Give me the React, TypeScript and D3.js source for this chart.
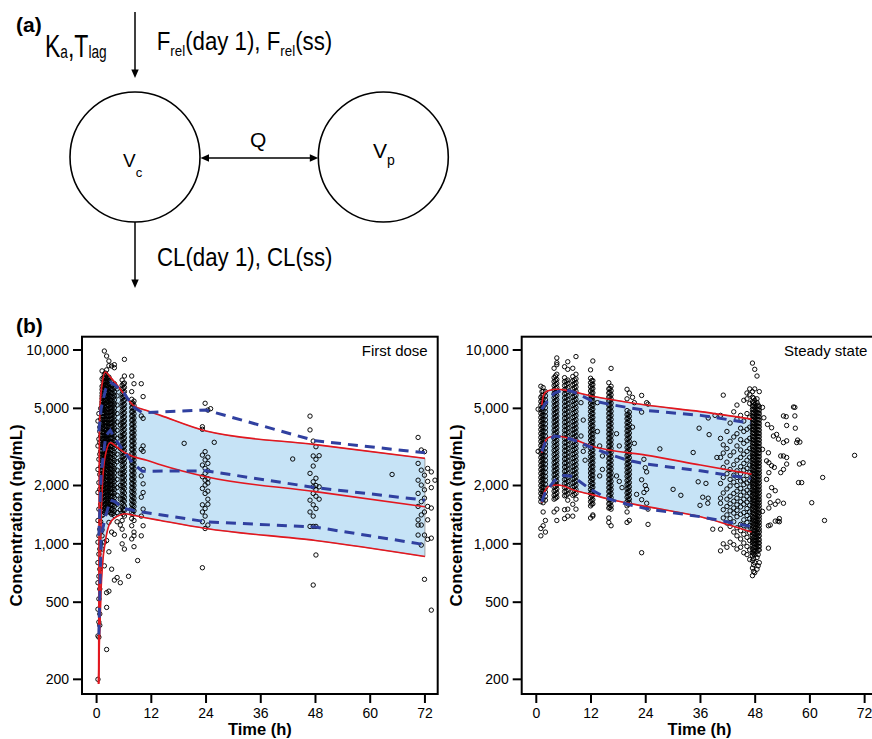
import React from 'react'
import * as d3 from 'd3'

const FONT = '"Liberation Sans", Arial, Helvetica, sans-serif'

const timeTicks = [0, 12, 24, 36, 48, 60, 72]
const concTicks = [200, 500, 1000, 2000, 5000, 10000]

// First dose: model-predicted 5th / 50th / 95th percentiles (red)
const fdPredTime = [0.44, 0.6, 0.8, 1.0, 1.3, 1.9, 3, 4.5, 6.2, 8, 11, 14, 24, 48, 72]
const fdPred95 = [190, 3500, 5300, 6100, 6900, 7700, 7250, 6600, 5850, 5200, 4870, 4600, 3820, 3250, 2760]
const fdPred50 = [190, 360, 740, 1340, 2070, 2840, 3330, 3150, 2950, 2820, 2700, 2560, 2220, 1860, 1555]
const fdPred5 = [190, 300, 420, 590, 780, 1020, 1290, 1385, 1430, 1405, 1360, 1320, 1200, 1040, 860]
// First dose: observed percentiles (blue dashed)
const fdObsTime = [0.5, 1, 2, 3, 4, 6, 8, 10, 24, 48, 72]
const fdObs95 = [3800, 5000, 6300, 6800, 6600, 6000, 5100, 4750, 4900, 3400, 2950]
const fdObs50 = [1100, 2300, 3600, 3850, 3500, 3000, 2600, 2370, 2380, 1950, 1680]
const fdObs5 = [340, 1100, 1400, 1680, 1650, 1520, 1490, 1460, 1300, 1220, 990]

// First dose observations: [time, conc, conc, ...]
const fdPoints = [
  [0.3, 200, 335, 460, 630, 800, 1020, 1320, 1840, 2420, 3200, 4300],
  [0.5, 330, 395, 520, 680, 885, 1100, 1510, 2070, 2730, 3470, 4700],
  [0.7, 380, 435, 585, 740, 940, 1190, 1910, 2280, 2900, 3330, 3800, 4000],
  [0.9, 1000, 1150, 1300, 1600, 2500, 3000, 3600, 4400, 5000],
  [1.2, 940, 1100, 1180, 1250, 1400, 1480, 1560, 1650, 1720, 1810, 1900, 1960, 2050, 2140, 2230, 2300, 2400, 2500, 2590, 2700, 2810, 2900, 3020, 3150, 3260, 3390, 3500, 3640, 3770, 3920, 4050, 4200, 4380, 4520, 4700, 4880, 5030, 5240, 5400, 5620, 5800, 6000, 6250, 6500, 7100, 7800],
  [1.45, 1420, 1490, 1580, 1660, 1740, 1820, 1900, 1990, 2090, 2190, 2290, 2400, 2510, 2630, 2750, 2880, 3010, 3150, 3300, 3450, 3610, 3780, 3960, 4140, 4330, 4530, 4740, 4960, 5190, 5430, 5680, 5950, 6230, 6520, 6830, 7200],
  [1.7, 770, 1020, 1450, 1520, 1600, 1680, 1750, 1830, 1920, 2000, 2080, 2170, 2260, 2350, 2450, 2550, 2650, 2760, 2870, 2980, 3100, 3220, 3350, 3480, 3620, 3760, 3900, 4060, 4210, 4370, 4540, 4720, 4900, 5090, 5290, 5490, 5700, 5920, 6150, 6380, 6620, 6880, 7150, 7500, 9880],
  [1.95, 1470, 1540, 1610, 1690, 1770, 1850, 1940, 2030, 2120, 2220, 2330, 2440, 2550, 2670, 2790, 2920, 3060, 3200, 3350, 3510, 3670, 3840, 4020, 4210, 4400, 4610, 4820, 5040, 5280, 5520, 5780, 6050, 6330, 6620, 6930, 7250, 7600],
  [2.2, 285, 470, 560, 1040, 1500, 1570, 1640, 1720, 1800, 1870, 1960, 2040, 2130, 2220, 2310, 2410, 2510, 2610, 2720, 2830, 2940, 3060, 3190, 3320, 3450, 3590, 3740, 3890, 4050, 4220, 4390, 4570, 4750, 4950, 5150, 5360, 5570, 5800, 6030, 6280, 6530, 6800, 7100, 7400, 7900, 9310],
  [2.45, 1460, 1530, 1600, 1680, 1760, 1840, 1930, 2020, 2110, 2210, 2310, 2420, 2530, 2650, 2770, 2900, 3040, 3180, 3330, 3480, 3640, 3810, 3990, 4170, 4370, 4570, 4780, 5000, 5240, 5480, 5730, 6000, 6280, 6570, 6880, 7200],
  [2.7, 570, 910, 1290, 1480, 1550, 1630, 1710, 1790, 1880, 1970, 2060, 2160, 2260, 2360, 2470, 2580, 2700, 2820, 2950, 3080, 3220, 3360, 3510, 3670, 3830, 4000, 4180, 4360, 4550, 4750, 4960, 5180, 5400, 5640, 5880, 6140, 6400, 6680, 6950, 7250, 8300, 8775],
  [3.0, 1450, 1520, 1590, 1670, 1750, 1840, 1930, 2020, 2110, 2210, 2320, 2430, 2540, 2660, 2780, 2910, 3050, 3190, 3340, 3500, 3660, 3830, 4010, 4200, 4390, 4600, 4810, 5040, 5270, 5520, 5780, 6050, 6330, 6630, 7000],
  [3.3, 740, 1150, 1420, 1500, 1580, 1660, 1740, 1830, 1920, 2010, 2110, 2210, 2320, 2430, 2540, 2660, 2790, 2920, 3060, 3200, 3350, 3510, 3670, 3840, 4020, 4200, 4400, 4600, 4810, 5030, 5260, 5500, 5750, 6000, 6280, 6550, 6850, 8270],
  [3.6, 1430, 1510, 1590, 1670, 1760, 1850, 1950, 2050, 2150, 2260, 2380, 2500, 2620, 2750, 2890, 3030, 3180, 3340, 3500, 3680, 3860, 4050, 4250, 4460, 4680, 4910, 5150, 5400, 5670, 5950, 6250, 6600],
  [3.9, 650, 1120, 1400, 1480, 1560, 1650, 1730, 1820, 1910, 2000, 2100, 2210, 2320, 2440, 2560, 2690, 2820, 2960, 3110, 3260, 3420, 3590, 3770, 3950, 4150, 4350, 4560, 4790, 5020, 5270, 5520, 5800, 6080, 6380, 6700, 8100, 8400],
  [4.5, 670, 1300, 1450, 1600, 1780, 1950, 2150, 2400, 2650, 2900, 3200, 3500, 3850, 4250, 4700, 5200, 5800, 6300],
  [5.2, 630, 1250, 1500, 1700, 2000, 2300, 2700, 3100, 3600, 4100],
  [5.6, 1000, 1190, 1320, 1450, 1540, 1620, 1700, 1790, 1880, 1980, 2080, 2190, 2300, 2420, 2540, 2670, 2810, 2950, 3100, 3260, 3430, 3600, 3790, 3980, 4190, 4400, 4630, 4870, 5120, 5380, 5660, 5950, 6260, 6580, 7000],
  [5.85, 1420, 1500, 1590, 1680, 1770, 1870, 1970, 2080, 2190, 2310, 2430, 2560, 2700, 2840, 2990, 3150, 3310, 3480, 3660, 3850, 4050, 4260, 4480, 4710, 4950, 5200, 5470, 5750, 6050, 6350, 6700],
  [6.1, 940, 1100, 1390, 1490, 1570, 1660, 1740, 1830, 1930, 2030, 2130, 2240, 2360, 2480, 2610, 2740, 2880, 3030, 3190, 3350, 3520, 3700, 3890, 4090, 4300, 4520, 4750, 5000, 5250, 5520, 5800, 6100, 6420, 6750, 7340, 8950],
  [7.0, 680],
  [7.7, 1060, 1240, 1350, 1450, 1520, 1600, 1680, 1770, 1860, 1950, 2050, 2160, 2270, 2390, 2510, 2640, 2770, 2920, 3070, 3220, 3390, 3560, 3740, 3930, 4130, 4340, 4560, 4800, 5040, 5300, 5570, 6100, 7340],
  [7.95, 1420, 1500, 1580, 1660, 1750, 1840, 1940, 2040, 2150, 2260, 2380, 2500, 2630, 2770, 2910, 3060, 3220, 3390, 3570, 3750, 3940, 4150, 4360, 4580, 4820, 5070, 5330],
  [8.2, 967, 1100, 1150, 1320, 1480, 1560, 1640, 1720, 1810, 1900, 2000, 2100, 2210, 2320, 2440, 2570, 2700, 2840, 2980, 3140, 3300, 3470, 3650, 3830, 4030, 4240, 4460, 4690, 4930, 5180, 5450, 6700],
  [9.0, 820],
  [9.8, 6700, 4570, 3070, 2240, 1740, 1390, 1100],
  [10.2, 5750, 4440, 3200, 3000, 2420, 2040, 1840, 1510, 1240],
  [19.2, 3300],
  [23.2, 753, 1300, 1460, 1590, 1930, 2220, 2550, 2870, 3900, 4020],
  [23.8, 1200, 1390, 1520, 1820, 2010, 2130, 2310, 2450, 2710, 2990, 5310],
  [24.4, 1250, 1600, 1700, 1870, 2060, 2170, 2380, 2600, 2800, 4900],
  [25.0, 4980],
  [25.8, 3340],
  [43.0, 2740],
  [46.8, 4560, 3870, 2310, 1680, 1460, 1230],
  [47.5, 3390, 2840, 2520, 2090, 1970, 1820, 1590, 1390, 1230, 613],
  [48.1, 3170, 2730, 2180, 2000, 1900, 1760, 1520, 1230, 876],
  [48.8, 2850, 1970, 1700],
  [64.8, 2280],
  [70.5, 3540, 2600, 2130, 1820, 1560, 1330, 1250, 1110],
  [71.2, 3050, 2400, 2010, 1650, 1410, 1250, 985],
  [71.9, 2990, 2260, 1900, 1720, 1460, 1110, 656],
  [72.6, 2450, 2100, 1560, 1330, 1055],
  [73.4, 2350, 1950, 1530, 1070, 455],
  [74.2, 2130],
]

// Steady state: model-predicted percentiles (red)
const ssPredTime = [1.2, 1.6, 2.2, 3.0, 4.5, 6, 8, 12, 16, 24, 36, 47.2]
const ssPred95 = [5200, 5850, 6100, 6200, 6270, 6230, 6100, 5790, 5570, 5200, 4810, 4400]
const ssPred50 = [2950, 3250, 3450, 3560, 3600, 3560, 3470, 3200, 3050, 2870, 2550, 2290]
const ssPred5 = [1630, 1800, 1930, 1990, 2010, 1990, 1900, 1800, 1700, 1560, 1380, 1150]
// Steady state: observed percentiles (blue dashed)
const ssObsTime = [1.2, 2, 4, 6, 8, 12, 16, 20, 24, 36, 47]
const ssObs95 = [4950, 5300, 6000, 6250, 6100, 5500, 5250, 5050, 4880, 4600, 4200]
const ssObs50 = [3000, 3350, 3600, 3550, 3450, 3150, 2900, 2700, 2580, 2380, 2170]
const ssObs5 = [1650, 1850, 2120, 2250, 2230, 1900, 1700, 1600, 1520, 1380, 1230]

// Steady state observations: [time, conc, conc, ...]
const ssPoints = [
  [0.4, 3000, 4950],
  [1.0, 1100, 1200, 1650, 1730, 1820, 1900, 2000, 2100, 2200, 2310, 2420, 2540, 2660, 2790, 2930, 3070, 3220, 3380, 3540, 3710, 3890, 4080, 4280, 4490, 4710, 4940, 5180, 5430, 5700, 6500],
  [1.25, 1700, 1780, 1860, 1950, 2040, 2140, 2240, 2350, 2460, 2580, 2710, 2840, 2980, 3120, 3280, 3440, 3610, 3780, 3970, 4160, 4360, 4580, 4800, 5030, 5280, 5540, 5810, 6100],
  [1.5, 1240, 1460, 1630, 1700, 1790, 1870, 1960, 2060, 2160, 2260, 2370, 2490, 2610, 2740, 2870, 3010, 3160, 3310, 3470, 3640, 3820, 4000, 4200, 4400, 4620, 4840, 5080, 5320, 5580, 5850, 6130, 6400],
  [2.0, 1150, 1320, 1680, 1760, 1850, 1940, 2030, 2130, 2230, 2340, 2460, 2580, 2700, 2840, 2980, 3120, 3270, 3430, 3600, 3780, 3960, 4160, 4360, 4570, 4800, 5030, 5280, 5530, 5800, 6100],
  [3.9, 1460, 1700, 1780, 1870, 1960, 2060, 2160, 2270, 2380, 2500, 2620, 2750, 2890, 3030, 3180, 3340, 3500, 3680, 3860, 4050, 4250, 4460, 4680, 4910, 5150, 5400, 5670, 5950, 6240, 6550, 6870, 7200, 8050],
  [4.2, 1720, 1800, 1890, 1980, 2080, 2180, 2290, 2400, 2520, 2650, 2780, 2920, 3060, 3210, 3370, 3540, 3720, 3900, 4100, 4300, 4510, 4740, 4970, 5220, 5480, 5750, 6040, 6340, 6650, 6980, 7350],
  [4.5, 1320, 1510, 1740, 1830, 1920, 2010, 2110, 2220, 2330, 2440, 2560, 2690, 2820, 2960, 3110, 3260, 3420, 3590, 3770, 3960, 4150, 4360, 4570, 4800, 5030, 5280, 5540, 5820, 6100, 6400, 6720, 7050, 7500, 8400, 8600, 9100],
  [6.2, 1350, 1500, 1770, 1860, 1950, 2050, 2150, 2260, 2370, 2490, 2610, 2740, 2880, 3020, 3170, 3330, 3490, 3670, 3850, 4040, 4240, 4450, 4670, 4900, 5140, 5400, 5660, 5940, 6240, 6550, 6870, 7200, 8200],
  [6.55, 1780, 1870, 1960, 2060, 2160, 2270, 2380, 2500, 2620, 2750, 2890, 3030, 3180, 3340, 3510, 3680, 3860, 4060, 4260, 4470, 4690, 4930, 5170, 5430, 5700, 5980, 6280, 6600, 6930],
  [6.9, 1390, 1510, 1680, 1810, 1900, 2000, 2100, 2200, 2310, 2430, 2550, 2680, 2810, 2950, 3100, 3250, 3410, 3580, 3760, 3950, 4140, 4350, 4560, 4790, 5030, 5280, 5540, 5810, 6100, 6400, 6720, 7000, 7950, 8700],
  [8.0, 1390, 1600, 1780, 1870, 1960, 2060, 2160, 2270, 2380, 2500, 2630, 2760, 2900, 3040, 3190, 3350, 3520, 3690, 3880, 4070, 4270, 4480, 4700, 4940, 5180, 5440, 5710, 5990, 6290, 6600, 6930, 7300, 8050],
  [8.35, 1800, 1890, 1980, 2080, 2180, 2290, 2400, 2520, 2650, 2780, 2920, 3070, 3220, 3380, 3550, 3730, 3910, 4110, 4310, 4530, 4750, 4990, 5240, 5500, 5780, 6070, 6370, 6690, 7020],
  [8.7, 1510, 1700, 1820, 1910, 2010, 2110, 2210, 2320, 2440, 2560, 2690, 2820, 2960, 3110, 3260, 3430, 3600, 3780, 3960, 4160, 4370, 4590, 4810, 5050, 5310, 5570, 5850, 6140, 6450, 6770, 7100, 7500, 9250],
  [9.8, 5350, 3600],
  [10.3, 4350, 3000],
  [10.7, 3200, 2700],
  [11.9, 1360, 1570, 1650, 1730, 1820, 1910, 2000, 2100, 2210, 2320, 2430, 2560, 2690, 2820, 2960, 3110, 3260, 3430, 3600, 3780, 3970, 4170, 4380, 4590, 4820, 5060, 5320, 5580, 5860, 6150, 6460, 6780, 7150, 7900],
  [12.15, 1600, 1680, 1770, 1860, 1950, 2050, 2150, 2260, 2370, 2490, 2610, 2740, 2880, 3030, 3180, 3340, 3500, 3680, 3860, 4060, 4260, 4470, 4700, 4930, 5180, 5440, 5710, 6000, 6300, 6620, 6950],
  [12.4, 1390, 1410, 1610, 1690, 1780, 1860, 1960, 2050, 2160, 2260, 2380, 2500, 2620, 2750, 2890, 3040, 3190, 3350, 3520, 3690, 3880, 4070, 4280, 4490, 4710, 4950, 5200, 5460, 5730, 6010, 6320, 6630, 6950, 8780],
  [13.4, 5350, 3800],
  [13.9, 3200, 2240],
  [14.5, 2840, 2420],
  [15.9, 1290, 1360, 1530, 1610, 1690, 1770, 1860, 1950, 2050, 2150, 2260, 2370, 2490, 2620, 2750, 2890, 3030, 3180, 3340, 3510, 3690, 3870, 4070, 4270, 4480, 4700, 4940, 5190, 5450, 5720, 6000, 6300, 6780],
  [16.15, 1540, 1620, 1700, 1780, 1870, 1960, 2060, 2160, 2270, 2380, 2500, 2630, 2760, 2900, 3040, 3200, 3350, 3520, 3700, 3880, 4080, 4280, 4500, 4720, 4960, 5210, 5470, 5740, 6030, 6330],
  [16.4, 1240, 1510, 1570, 1650, 1730, 1820, 1910, 2000, 2100, 2210, 2320, 2440, 2560, 2690, 2820, 2960, 3110, 3270, 3430, 3600, 3780, 3970, 4170, 4380, 4600, 4830, 5070, 5320, 5590, 5870, 6160, 6500, 8040],
  [17.6, 3700, 2240],
  [18.2, 3200, 2100],
  [18.8, 1950],
  [19.9, 1290, 1460, 1570, 1650, 1740, 1830, 1920, 2020, 2120, 2230, 2340, 2460, 2580, 2710, 2850, 2990, 3140, 3300, 3460, 3640, 3820, 4010, 4210, 4420, 4640, 4870, 5600, 6270],
  [20.15, 1600, 1680, 1760, 1850, 1940, 2040, 2140, 2250, 2360, 2480, 2600, 2730, 2870, 3010, 3160, 3320, 3490, 3660, 3840, 4030, 4230, 4450, 4670],
  [20.4, 1320, 1630, 1700, 1790, 1880, 1970, 2070, 2180, 2290, 2400, 2520, 2650, 2780, 2920, 3070, 3220, 3380, 3550, 3730, 3920, 4120, 4330, 4550, 4780, 6000],
  [21.1, 5700, 4000],
  [21.5, 5350, 3300],
  [22.0, 1800],
  [23.1, 5830, 4780, 2140, 1690, 900],
  [23.6, 2730, 1840],
  [23.9, 2470, 2000],
  [24.2, 5350, 2350, 1910, 1620],
  [24.5, 5260, 1510, 1260],
  [27.1, 3090],
  [30.0, 1910],
  [31.7, 1780],
  [34.4, 2960],
  [35.5, 2090],
  [35.7, 3950],
  [35.9, 1580],
  [36.5, 1740],
  [37.2, 2050],
  [37.6, 1620],
  [37.7, 4460, 1720],
  [37.9, 3660],
  [38.7, 1190],
  [39.2, 4600],
  [39.6, 2790],
  [40.4, 920, 1190, 1620, 1720, 2050, 2790, 3500, 4600],
  [41.0, 1000, 1360, 1500, 1830, 2200, 2480, 2940, 3240, 5850],
  [41.8, 960, 1280, 1410, 1560, 1700, 1920, 2300, 2640, 3100, 3800],
  [42.5, 1020, 1230, 1350, 1480, 1610, 1760, 1990, 2150, 2420, 2850, 3380, 4200],
  [43.3, 990, 1150, 1300, 1440, 1530, 1660, 1820, 2080, 2260, 2560, 2980, 3560, 4800],
  [44.0, 940, 1100, 1210, 1380, 1490, 1590, 1720, 1870, 2000, 2200, 2380, 2700, 3200, 3700, 4400, 5200],
  [44.8, 960, 1060, 1170, 1260, 1420, 1550, 1650, 1780, 1930, 2110, 2300, 2500, 2790, 3050, 3450, 3950, 4600],
  [45.5, 900, 1010, 1120, 1240, 1330, 1450, 1600, 1700, 1850, 2020, 2150, 2400, 2600, 2900, 3300, 3800, 4300, 5500],
  [46.2, 880, 970, 1080, 1180, 1290, 1400, 1520, 1640, 1760, 1890, 2060, 2250, 2450, 2700, 3000, 3400, 3900, 4700, 5600, 6000],
  [46.8, 830, 930, 1040, 1140, 1240, 1350, 1460, 1580, 1700, 1830, 1970, 2120, 2330, 2550, 2800, 3100, 3500, 4000, 4500, 5300, 5900, 6300],
  [47.4, 685, 750, 820, 870, 900, 940, 980, 1020, 1060, 1100, 1140, 1190, 1240, 1290, 1340, 1390, 1450, 1510, 1570, 1630, 1700, 1770, 1840, 1910, 1990, 2070, 2150, 2240, 2330, 2420, 2520, 2620, 2730, 2840, 2950, 3070, 3190, 3320, 3450, 3590, 3740, 3890, 4050, 4210, 4380, 4560, 4750, 4940, 5150, 5400, 5700, 6100, 8560],
  [47.65, 720, 780, 840, 890, 920, 960, 1000, 1040, 1080, 1130, 1170, 1220, 1270, 1320, 1370, 1430, 1490, 1550, 1610, 1670, 1740, 1810, 1880, 1960, 2040, 2120, 2210, 2300, 2390, 2490, 2590, 2700, 2810, 2920, 3040, 3170, 3300, 3430, 3570, 3720, 3870, 4030, 4190, 4360, 4540, 4730, 4920, 5120, 5350, 5650],
  [47.9, 710, 800, 880, 920, 960, 1000, 1040, 1080, 1120, 1170, 1210, 1260, 1310, 1370, 1420, 1480, 1540, 1600, 1670, 1730, 1800, 1880, 1950, 2030, 2110, 2200, 2290, 2380, 2480, 2580, 2680, 2790, 2900, 3020, 3140, 3270, 3400, 3540, 3680, 3830, 3980, 4140, 4310, 4480, 4660, 4850, 5050, 5250, 5500, 6300, 7950],
  [48.4, 740, 850, 910, 950, 990, 1030, 1070, 1110, 1150, 1200, 1250, 1300, 1350, 1400, 1460, 1520, 1580, 1640, 1710, 1780, 1850, 1920, 2000, 2080, 2160, 2250, 2340, 2440, 2540, 2640, 2740, 2850, 2970, 3090, 3210, 3340, 3470, 3610, 3760, 3910, 4070, 4230, 4400, 4580, 4760, 4950, 5150, 5350, 5600, 7340],
  [48.65, 770, 880, 930, 970, 1010, 1050, 1090, 1130, 1180, 1220, 1270, 1320, 1380, 1430, 1490, 1550, 1610, 1680, 1740, 1810, 1890, 1960, 2040, 2130, 2210, 2300, 2400, 2500, 2600, 2700, 2810, 2930, 3050, 3170, 3300, 3440, 3580, 3720, 3870, 4030, 4200, 4370, 4550, 4730, 4920, 5200],
  [48.9, 800, 930, 970, 1010, 1050, 1100, 1150, 1190, 1240, 1290, 1340, 1390, 1450, 1510, 1570, 1630, 1690, 1760, 1830, 1900, 1980, 2060, 2140, 2230, 2320, 2410, 2510, 2610, 2710, 2820, 2930, 3050, 3170, 3300, 3430, 3570, 3710, 3860, 4020, 4180, 4350, 4520, 4700, 4890, 5100, 6100],
  [49.6, 5060, 3070, 1470],
  [49.9, 4470],
  [50.5, 2680, 2150],
  [50.7, 4130],
  [50.9, 2950, 1240, 950],
  [51.0, 2620, 2330, 1770, 1530],
  [51.3, 1630, 1250],
  [51.6, 3970, 2530, 1950],
  [52.0, 3600],
  [52.2, 2480],
  [52.4, 1880, 1600, 1310],
  [52.7, 3670],
  [53.0, 1660, 1310],
  [53.1, 3470],
  [53.3, 1350, 1300],
  [53.6, 2840, 2330],
  [54.2, 4570, 3330, 2840, 2420, 1620],
  [54.8, 4530],
  [54.9, 4080, 3400, 2790, 2580],
  [56.4, 5080],
  [56.7, 4570, 5060],
  [56.8, 3950],
  [57.1, 3330],
  [57.3, 3430],
  [57.5, 2070],
  [57.7, 2580],
  [57.8, 3350],
  [58.2, 2070],
  [58.5, 2620],
  [60.4, 1630],
  [62.8, 2200],
  [63.2, 1320],
  [69.8, 2860],
]

const PLOT_TOP = 336.7
const PLOT_BOTTOM = 694
const y = d3.scaleLog().domain([168, 11713]).range([PLOT_BOTTOM, PLOT_TOP])
const fmt = d3.format(',')

type PanelProps = {
  x0: number
  x1: number
  title: string
  predT: number[]
  p95: number[]
  p50: number[]
  p5: number[]
  obsT: number[]
  o95: number[]
  o50: number[]
  o5: number[]
  rows: number[][]
}

function Panel(props: PanelProps) {
  const { x0, x1, title, predT, p95, p50, p5, obsT, o95, o50, o5, rows } = props
  const x = d3.scaleLinear().domain([-3.2, 74.8]).range([x0, x1])

  const band = d3.area<number>()
    .x((_, i) => x(predT[i]))
    .y0((_, i) => y(p5[i]))
    .y1(d => y(d))
    .curve(d3.curveMonotoneX)
  const predLine = d3.line<number>()
    .x((_, i) => x(predT[i]))
    .y(d => y(d))
    .curve(d3.curveMonotoneX)
  const obsLine = d3.line<number>()
    .x((_, i) => x(obsT[i]))
    .y(d => y(d))

  const pts = rows.flatMap(r => r.slice(1).map(c => [r[0], c]))
  const midX = (x0 + x1) / 2
  const midY = (PLOT_TOP + PLOT_BOTTOM) / 2

  return (
    <g>
      <path d={band(p95) || ''} fill='#c6e3f6' stroke='#8c8c8c' strokeWidth={0.8} />
      <g fill='none' stroke='#000' strokeWidth={0.95}>
        {pts.map((p, i) => (
          <circle key={i} cx={x(p[0])} cy={y(p[1])} r={2.2} />
        ))}
      </g>
      {[p95, p50, p5].map((s, i) => (
        <path key={'p' + i} d={predLine(s) || ''} fill='none' stroke='#e3171f' strokeWidth={1.6} />
      ))}
      {[o95, o50, o5].map((s, i) => (
        <path key={'o' + i} d={obsLine(s) || ''} fill='none' stroke='#3040a0'
          strokeWidth={3} strokeDasharray='10,7' />
      ))}
      <rect x={x0} y={PLOT_TOP} width={x1 - x0} height={PLOT_BOTTOM - PLOT_TOP}
        fill='none' stroke='#000' strokeWidth={2} />
      {concTicks.map(t => (
        <g key={t}>
          <line x1={x0 - 9} x2={x0} y1={y(t)} y2={y(t)} stroke='#000' strokeWidth={2} />
          <text x={x0 - 13} y={y(t) + 5} textAnchor='end' fontSize={14}>{fmt(t)}</text>
        </g>
      ))}
      {timeTicks.map(t => (
        <g key={t}>
          <line x1={x(t)} x2={x(t)} y1={PLOT_BOTTOM} y2={PLOT_BOTTOM + 9} stroke='#000' strokeWidth={2} />
          <text x={x(t)} y={718} textAnchor='middle' fontSize={14}>{t}</text>
        </g>
      ))}
      <text x={midX} y={734.5} textAnchor='middle' fontSize={16.5} fontWeight='bold'>Time (h)</text>
      <text transform={`translate(${x0 - 60},${midY}) rotate(-90)`} textAnchor='middle'
        fontSize={17} fontWeight='bold'>Concentration (ng/mL)</text>
      <text x={x1 - 10} y={355.5} textAnchor='end' fontSize={15}>{title}</text>
    </g>
  )
}

function Diagram() {
  const cy = 157
  return (
    <g>
      <text x={16} y={31.5} fontSize={21} fontWeight='bold'>(a)</text>
      <g transform='translate(45,56.7) scale(0.72,1)'>
        <text fontSize={32}>K<tspan fontSize={19} dy={1}>a</tspan><tspan dy={-1}>,T</tspan><tspan fontSize={19} dy={1}>lag</tspan></text>
      </g>
      <g transform='translate(156.7,50) scale(0.89,1)'>
        <text fontSize={25}>F<tspan fontSize={15} dy={6}>rel</tspan><tspan dy={-6}>(day 1), F</tspan><tspan fontSize={15} dy={6}>rel</tspan><tspan dy={-6}>(ss)</tspan></text>
      </g>
      <g transform='translate(157,266) scale(0.89,1)'>
        <text fontSize={25}>CL(day 1), CL(ss)</text>
      </g>

      <circle cx={135} cy={cy} r={65} fill='none' stroke='#000' strokeWidth={1.6} />
      <circle cx={383.3} cy={cy} r={65} fill='none' stroke='#000' strokeWidth={1.6} />

      <text x={123} y={166.5} fontSize={19}>V<tspan fontSize={13} dy={10}>c</tspan></text>
      <text x={373} y={158} fontSize={21}>V<tspan fontSize={14} dy={7}>p</tspan></text>
      <text x={250} y={146.7} fontSize={21}>Q</text>

      <g stroke='#000' strokeWidth={1.5}>
        <line x1={135} x2={135} y1={12} y2={71} />
        <line x1={135} x2={135} y1={222} y2={281} />
        <line x1={208} x2={311} y1={158} y2={158} />
      </g>
      <g fill='#000'>
        <polygon points='135,78 131.3,69.5 138.7,69.5' />
        <polygon points='135,288 131.3,279.5 138.7,279.5' />
        <polygon points='200.5,158 209,154.3 209,161.7' />
        <polygon points='318.3,158 309.8,154.3 309.8,161.7' />
      </g>
    </g>
  )
}

export default function App() {
  return (
    <div style={{ position: 'absolute', left: 0, top: 0 }}>
      <svg width={872} height={739} style={{ display: 'block', fontFamily: FONT }}>
        <rect width={872} height={739} fill='#fff' />
        <Diagram />
        <text x={16} y={333} fontSize={21} fontWeight='bold'>(b)</text>
        <Panel x0={82} x1={437.7} title='First dose'
          predT={fdPredTime} p95={fdPred95} p50={fdPred50} p5={fdPred5}
          obsT={fdObsTime} o95={fdObs95} o50={fdObs50} o5={fdObs5} rows={fdPoints} />
        <Panel x0={521.7} x1={877.4} title='Steady state'
          predT={ssPredTime} p95={ssPred95} p50={ssPred50} p5={ssPred5}
          obsT={ssObsTime} o95={ssObs95} o50={ssObs50} o5={ssObs5} rows={ssPoints} />
      </svg>
    </div>
  )
}
